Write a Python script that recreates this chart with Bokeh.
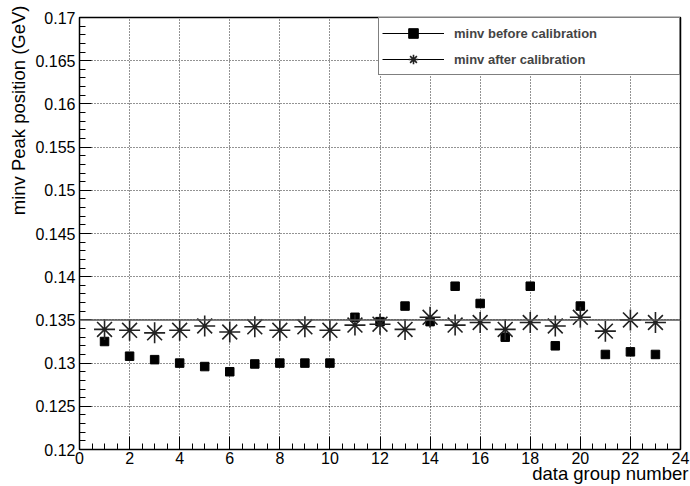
import math
from bokeh.plotting import figure
from bokeh.models import (FixedTicker, Span, Legend, LegendItem, ColumnDataSource, Title)
from bokeh.embed import file_html
from bokeh.resources import INLINE

# ---- data ----
group = list(range(1, 24))
minv_before = [0.1325, 0.1308, 0.1304, 0.1300, 0.1296, 0.1290, 0.1299, 0.1300, 0.1300, 0.1300,
               0.1353, 0.1348, 0.1366, 0.1348, 0.1389, 0.1369, 0.1330, 0.1389, 0.1320, 0.1366,
               0.1310, 0.1313, 0.1310]
minv_after = [0.1339, 0.1338, 0.1335, 0.1338, 0.1343, 0.1336, 0.1342, 0.1338, 0.1342, 0.1338,
              0.1344, 0.1345, 0.1339, 0.1353, 0.1344, 0.1347, 0.1339, 0.1347, 0.1343, 0.1353,
              0.1337, 0.1350, 0.1347]
reference_mass = 0.135
x_ticks = [0, 2, 4, 6, 8, 10, 12, 14, 16, 18, 20, 22, 24]
y_ticks = [0.12, 0.125, 0.13, 0.135, 0.14, 0.145, 0.15, 0.155, 0.16, 0.165, 0.17]
y_tick_labels = ["0.12", "0.125", "0.13", "0.135", "0.14", "0.145", "0.15", "0.155", "0.16", "0.165", "0.17"]
x_label = "data group number"
y_label = "minv Peak position (GeV)"
legend_labels = ["minv before calibration", "minv after calibration"]

FONT = "Liberation Sans"

p = figure(width=690, height=486, x_range=(0, 24), y_range=(0.12, 0.17),
           output_backend="svg", toolbar_location=None,
           min_border_left=79, min_border_right=10, min_border_top=17, min_border_bottom=37)
p.background_fill_color = "white"
p.border_fill_color = "white"
p.outline_line_color = "black"
p.outline_line_width = 1.5

# axes
p.xaxis.ticker = FixedTicker(ticks=x_ticks, minor_ticks=[i * 0.5 for i in range(0, 49)])
p.yaxis.ticker = FixedTicker(ticks=y_ticks, minor_ticks=[0.12 + i * 0.001 for i in range(0, 51)])
p.yaxis.major_label_overrides = {t: s for t, s in zip(y_ticks, y_tick_labels)}
for ax in (p.xaxis[0], p.yaxis[0]):
    ax.major_label_text_font = FONT
    ax.major_label_text_font_size = "16px"
    ax.major_label_text_color = "black"
    ax.axis_line_color = "black"
    ax.major_tick_line_color = "black"
    ax.minor_tick_line_color = "black"
    ax.major_tick_out = 0
    ax.minor_tick_out = 0
    ax.minor_tick_in = 6
p.xaxis.major_tick_in = 13
p.yaxis.major_tick_in = 12
p.xaxis.major_label_standoff = 2
p.yaxis.major_label_standoff = 4

# axis titles (right/top aligned, as in the reference)
p.add_layout(Title(text=x_label, align="right", offset=-8, standoff=-8, vertical_align="top",
                   text_font=FONT, text_font_size="18.5px", text_font_style="normal",
                   text_color="black"), "below")
p.add_layout(Title(text=y_label, align="right", offset=-12, standoff=8,
                   text_font=FONT, text_font_size="18.5px", text_font_style="normal",
                   text_color="black"), "left")

# grid
for g in (p.xgrid[0], p.ygrid[0]):
    g.grid_line_color = "black"
    g.grid_line_dash = "1 2"
    g.grid_line_width = 1
    g.grid_line_alpha = 0.85
p.xgrid.ticker = FixedTicker(ticks=x_ticks)
p.ygrid.ticker = FixedTicker(ticks=y_ticks)

# reference line
p.add_layout(Span(location=reference_mass, dimension="width", line_color="#555555", line_width=1.5))

# data
src_b = ColumnDataSource(dict(x=group, y=minv_before))
src_a = ColumnDataSource(dict(x=group, y=minv_after))
r_before = p.scatter("x", "y", source=src_b, marker="square", size=8.5,
                     fill_color="black", line_color="black")
r_after = p.scatter("x", "y", source=src_a, marker="asterisk", size=21,
                    line_color="#222222", line_width=1.6)

# legend helper lines: a single point draws nothing in the plot, only the legend line
l_before = p.line(group[:1], minv_before[:1], line_color="black", line_width=1)
l_after = p.line(group[:1], minv_after[:1], line_color="black", line_width=1)

legend = Legend(items=[LegendItem(label=legend_labels[0], renderers=[l_before, r_before]),
                       LegendItem(label=legend_labels[1], renderers=[l_after, r_after])],
                location="top_right", margin=0, padding=3, spacing=2,
                glyph_width=62, glyph_height=24, label_height=24, label_width=222,
                label_standoff=10,
                label_text_font=FONT, label_text_font_size="13px", label_text_font_style="bold",
                border_line_color="black", border_line_width=1,
                background_fill_color="white", background_fill_alpha=1.0)
p.add_layout(legend)

open("out.html", "w").write(file_html(p, INLINE))
